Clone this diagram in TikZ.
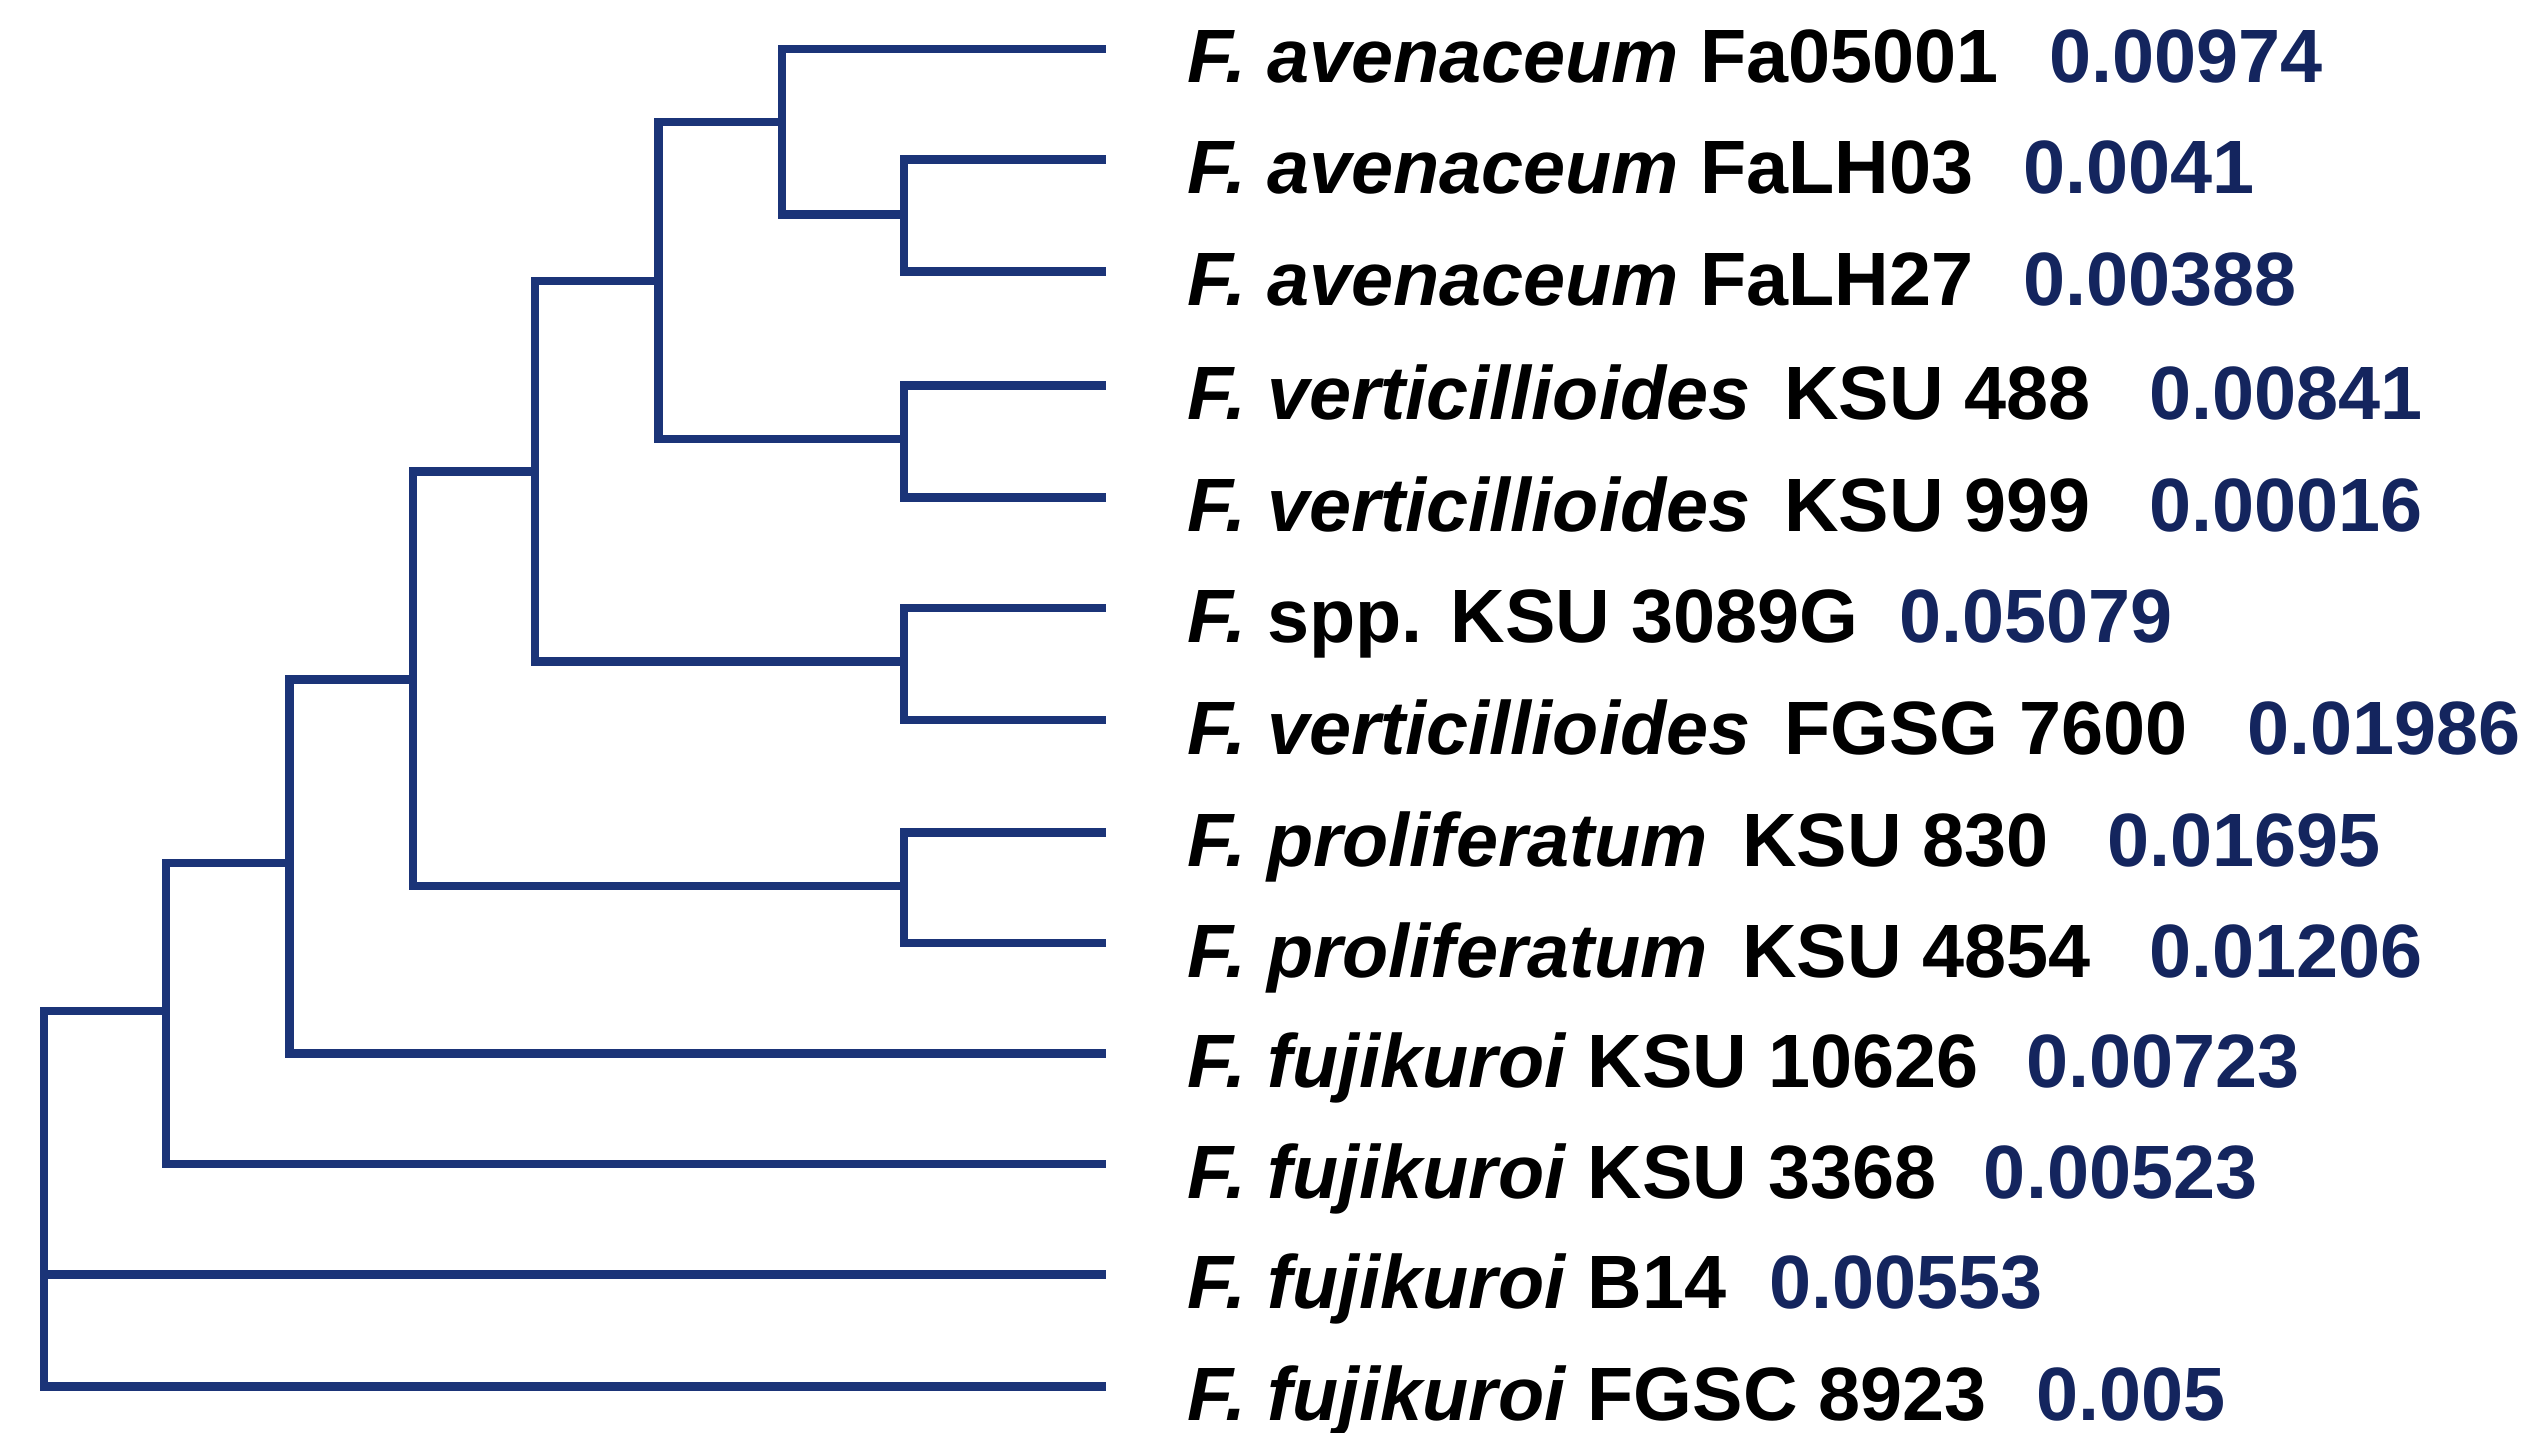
\documentclass[tikz,border=0pt]{standalone}
\usepackage{fontspec}
\setmainfont{Liberation Sans}
\begin{document}
\begin{tikzpicture}[x=0.016256cm,y=-0.016256cm,
  br/.style={line width=2.4pt,draw=treeblue,line cap=rect},
  lab/.style={anchor=base west,inner sep=0pt,font=\fontsize{21.5}{21.5}\selectfont\bfseries,text=black},
  val/.style={anchor=base west,inner sep=0pt,font=\fontsize{21.5}{21.5}\selectfont\bfseries,text=valblue}]
\definecolor{treeblue}{HTML}{1B3478}
\definecolor{valblue}{HTML}{14255E}
\useasboundingbox (0,0) rectangle (1560,881);
% leaves
\foreach \n/\y in {1/30,2/98,3/167,4/237,5/306,6/374,7/443,8/512,9/580,10/648,11/716,12/784,13/853}
  \coordinate (l\n) at (678,\y);
% internal nodes
\coordinate (A) at (556,132);
\coordinate (B) at (481,75);
\coordinate (C) at (556,270);
\coordinate (D) at (405,173);
\coordinate (E) at (556,407);
\coordinate (F) at (329,290);
\coordinate (G) at (556,545);
\coordinate (H) at (254,418);
\coordinate (I) at (178,531);
\coordinate (J) at (102,622);
\coordinate (R) at (27,622);
\draw[br] (l2) -| (A) |- (l3);
\draw[br] (l1) -| (B) |- (A);
\draw[br] (l4) -| (C) |- (l5);
\draw[br] (B) -| (D) |- (C);
\draw[br] (l6) -| (E) |- (l7);
\draw[br] (D) -| (F) |- (E);
\draw[br] (l8) -| (G) |- (l9);
\draw[br] (F) -| (H) |- (G);
\draw[br] (H) -| (I) |- (l10);
\draw[br] (I) -| (J) |- (l11);
\draw[br] (J) -| (R) |- (l13);
\draw[br] (R |- l12) -- (l12);
% labels
\def\lx{730}
\node[lab] (t1) at (\lx,51) {\textit{F. avenaceum} Fa05001};
\node[lab] (t2) at (\lx,119) {\textit{F. avenaceum} FaLH03};
\node[lab] (t3) at (\lx,188) {\textit{F. avenaceum} FaLH27};
\node[lab] (t4) at (\lx,258) {\textit{F. verticillioides}\hspace{0.45em}KSU 488};
\node[lab] (t5) at (\lx,327) {\textit{F. verticillioides}\hspace{0.45em}KSU 999};
\node[lab] (t6) at (\lx,395) {\textit{F.} spp. KSU 3089G};
\node[lab] (t7) at (\lx,464) {\textit{F. verticillioides}\hspace{0.45em}FGSG 7600};
\node[lab] (t8) at (\lx,533) {\textit{F. proliferatum}\hspace{0.45em}KSU 830};
\node[lab] (t9) at (\lx,601) {\textit{F. proliferatum}\hspace{0.45em}KSU 4854};
\node[lab] (t10) at (\lx,669) {\textit{F. fujikuroi} KSU 10626};
\node[lab] (t11) at (\lx,737) {\textit{F. fujikuroi} KSU 3368};
\node[lab] (t12) at (\lx,805) {\textit{F. fujikuroi} B14};
\node[lab] (t13) at (\lx,874) {\textit{F. fujikuroi} FGSC 8923};
\node[val] (v1) at (1260,51) {0.00974};
\node[val] (v2) at (1244,119) {0.0041};
\node[val] (v3) at (1244,188) {0.00388};
\node[val] (v4) at (1322,258) {0.00841};
\node[val] (v5) at (1322,327) {0.00016};
\node[val] (v6) at (1168,395) {0.05079};
\node[val] (v7) at (1382,464) {0.01986};
\node[val] (v8) at (1296,533) {0.01695};
\node[val] (v9) at (1322,601) {0.01206};
\node[val] (v10) at (1246,669) {0.00723};
\node[val] (v11) at (1220,737) {0.00523};
\node[val] (v12) at (1088,805) {0.00553};
\node[val] (v13) at (1252,874) {0.005};
\end{tikzpicture}
\end{document}
